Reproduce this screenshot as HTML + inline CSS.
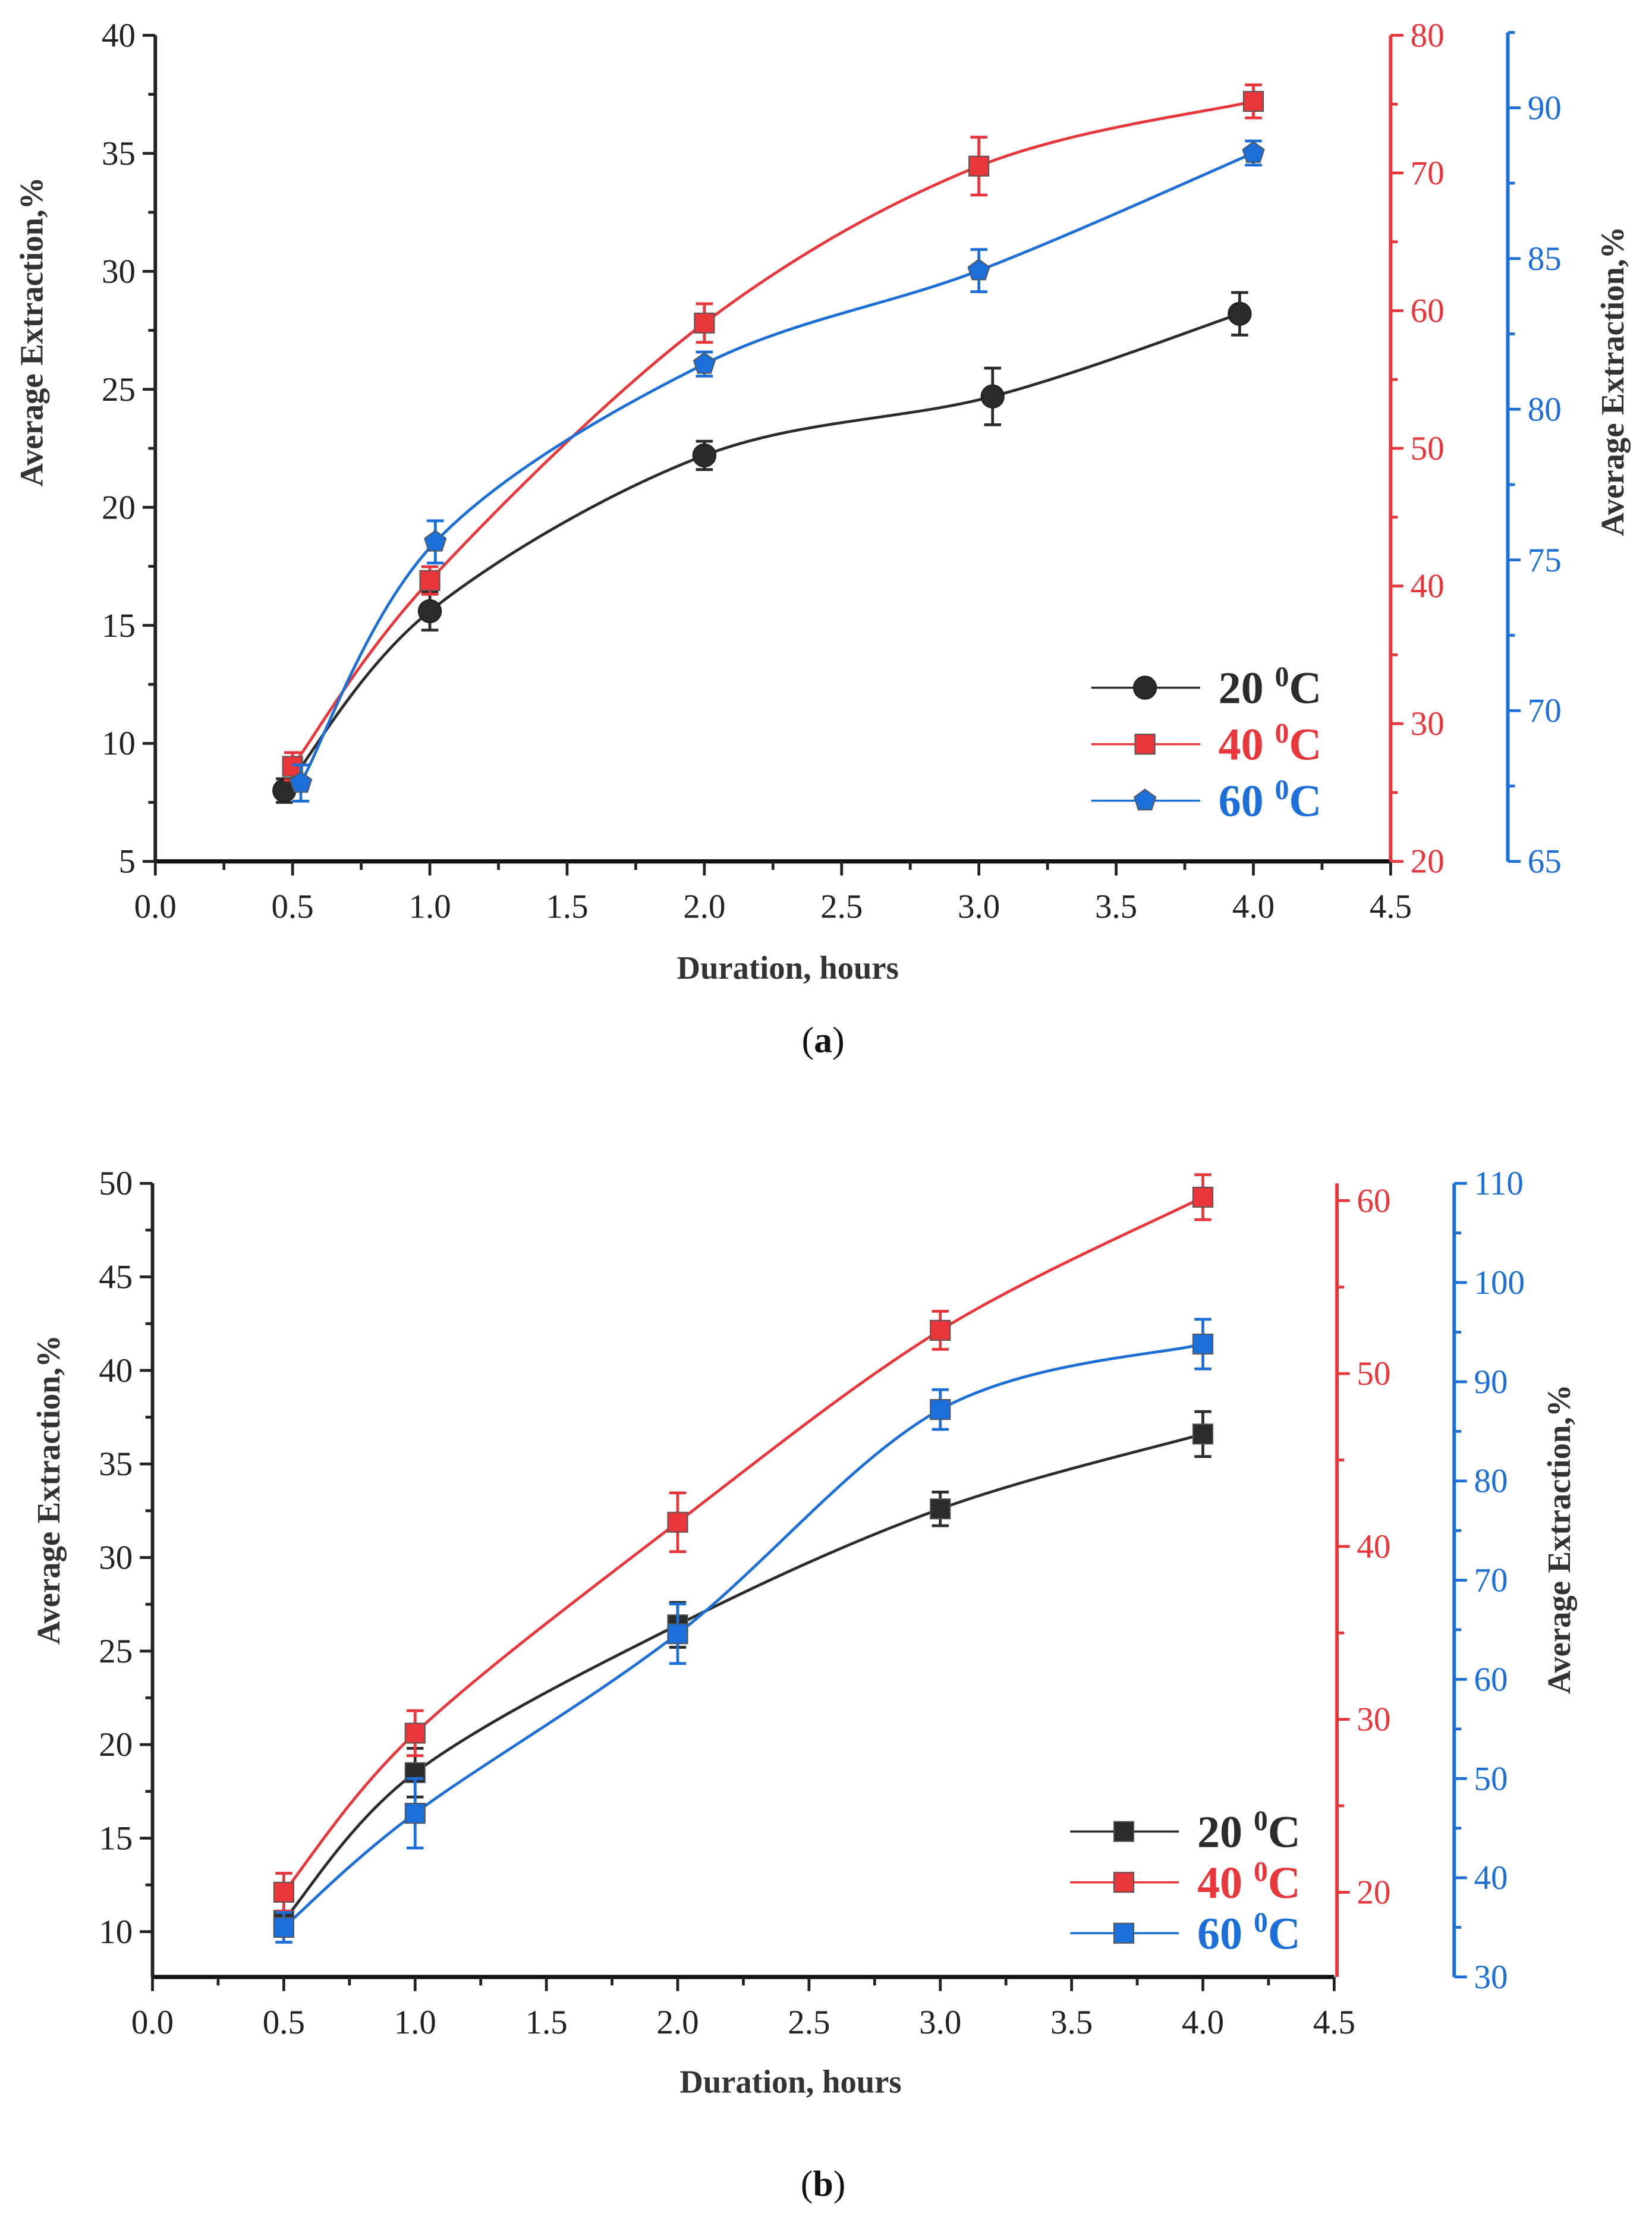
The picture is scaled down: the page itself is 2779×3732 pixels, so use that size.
<!DOCTYPE html>
<html><head><meta charset="utf-8"><style>
html,body{margin:0;padding:0;background:#fff}
svg{display:block}
text{font-family:"Liberation Serif",serif}
</style></head><body>
<svg id="fig" width="2779" height="3732" viewBox="0 0 1170.1 1571.4" xmlns="http://www.w3.org/2000/svg"></svg>
<script>
// ---- Chart (a) data ----
const aX20 = [0.47, 1.0, 2.0, 3.05, 3.95];
const aY20 = [8.0, 15.6, 22.2, 24.7, 28.2];
const aE20 = [0.5, 0.8, 0.6, 1.2, 0.9];
const aX40 = [0.5, 1.0, 2.0, 3.0, 4.0];
const aY40 = [26.9, 40.4, 59.1, 70.5, 75.2];
const aE40 = [1.0, 1.0, 1.4, 2.1, 1.2];
const aX60 = [0.53, 1.02, 2.0, 3.0, 4.0];
const aY60 = [67.6, 75.6, 81.5, 84.6, 88.5];
const aE60 = [0.6, 0.7, 0.4, 0.7, 0.4];
// ---- Chart (b) data ----
const bX = [0.5, 1.0, 2.0, 3.0, 4.0];
const bY20 = [10.6, 18.5, 26.4, 32.6, 36.6];
const bE20 = [0.5, 1.3, 1.2, 0.9, 1.2];
const bY40 = [20.0, 29.2, 41.4, 52.5, 60.2];
const bE40 = [1.1, 1.3, 1.7, 1.1, 1.3];
const bY60 = [35.0, 46.5, 64.6, 87.2, 93.8];
const bE60 = [1.5, 3.5, 3.0, 2.0, 2.5];
const xTicks = ["0.0","0.5","1.0","1.5","2.0","2.5","3.0","3.5","4.0","4.5"];

const NS="http://www.w3.org/2000/svg";
const svg=document.getElementById('fig');
function el(tag,attrs,parent,txt){const e=document.createElementNS(NS,tag);for(const k in attrs)e.setAttribute(k,attrs[k]);if(txt!==undefined)e.textContent=txt;(parent||svg).appendChild(e);return e;}
const BLK="#2b2b2b",RED="#e8363b",BLU="#1c6fd9";

function smooth(pts){let d=`M${pts[0][0]},${pts[0][1]}`;for(let i=0;i<pts.length-1;i++){const p0=pts[Math.max(0,i-1)],p1=pts[i],p2=pts[i+1],p3=pts[Math.min(pts.length-1,i+2)];const c1=[p1[0]+(p2[0]-p0[0])/6,p1[1]+(p2[1]-p0[1])/6],c2=[p2[0]-(p3[0]-p1[0])/6,p2[1]-(p3[1]-p1[1])/6];d+=` C${c1[0]},${c1[1]} ${c2[0]},${c2[1]} ${p2[0]},${p2[1]}`;}return d;}

function marker(g,shape,x,y,color,s){
  if(shape==='circle'){const c=el('circle',{cx:x,cy:y,r:s*0.8,fill:BLK,stroke:'#222','stroke-width':1},g);}
  else if(shape==='square'){const r=el('rect',{x:x-s*0.7,y:y-s*0.7,width:s*1.4,height:s*1.4,fill:color,stroke:'#555','stroke-width':0.8},g);}
  else {let p=[];for(let k=0;k<5;k++){const a=-Math.PI/2+k*2*Math.PI/5;p.push((x+s*0.8*Math.cos(a)).toFixed(1)+','+(y+s*0.8*Math.sin(a)).toFixed(1));}
    const q=el('polygon',{points:p.join(' '),fill:color,stroke:'#555','stroke-width':0.8},g);}
}

function series(g,name,xs,ys,es,sx,sy,color,shape){
  const sg=el('g',{},g);
  const pts=xs.map((x,i)=>[sx(x),sy(ys[i])]);
  el('path',{d:smooth(pts),fill:'none',stroke:color,'stroke-width':2},sg);
  xs.forEach((x,i)=>{const px=sx(x),t=sy(ys[i]+es[i]),b=sy(ys[i]-es[i]);
    el('path',{d:`M${px},${t}V${b}M${px-6},${t}H${px+6}M${px-6},${b}H${px+6}`,stroke:color,'stroke-width':2,fill:'none'},sg);
    marker(sg,shape,px,sy(ys[i]),color,10);});
}

function yAxis(g,name,x,top,bot,vmin,vmax,major,minor,color,labels,side,fs){
  const ag=el('g',{},g);
  const sy=v=>bot-(v-vmin)/(vmax-vmin)*(bot-top);
  el('line',{x1:x,y1:top,x2:x,y2:bot,stroke:color,'stroke-width':2.5},ag);
  const dir=side==='left'?-1:1;
  for(let v=Math.ceil(vmin/minor-1e-9)*minor;v<=vmax+1e-9;v+=minor){
    const isM=Math.abs(v/major-Math.round(v/major))<1e-6;const y=sy(v);
    el('line',{x1:x,y1:y,x2:x+dir*(isM?9:5),y2:y,stroke:color,'stroke-width':2},ag);
    if(isM&&labels){el('text',{x:x+dir*14,y:y+8,'font-size':fs,fill:color,'text-anchor':side==='left'?'end':'start'},ag,String(Math.round(v)));}
  }
  return sy;
}

function xAxis(g,x0,x1,y,fs){
  const ag=el('g',{},g);
  const sx=v=>x0+v/4.5*(x1-x0);
  el('line',{x1:x0,y1:y,x2:x1,y2:y,stroke:'#111','stroke-width':3},ag);
  for(let i=0;i<=18;i++){const v=i*0.25,px=sx(v),M=i%2===0;
    el('line',{x1:px,y1:y,x2:px,y2:y+(M?10:6),stroke:'#222','stroke-width':2},ag);
    if(M)el('text',{x:px,y:y+40,'font-size':fs,fill:'#222','text-anchor':'middle'},ag,xTicks[i/2]);}
  return sx;
}

function legend(g,x,y0,dy,entries){
  const lg=el('g',{},g);
  entries.forEach((e,i)=>{const y=y0+i*dy;const eg=el('g',{},lg);
    el('line',{x1:x,y1:y,x2:x+77,y2:y,stroke:e.c,'stroke-width':1.5},eg);
    marker(eg,e.s,x+38,y,e.c,10);
    const t=el('text',{x:x+90,y:y+11,'font-size':32,fill:e.c,'font-weight':'bold'},eg);
    t.appendChild(document.createTextNode(e.t+' '));
    el('tspan',{'font-size':20,dy:-12},t,'0');
    el('tspan',{dy:12},t,'C');});
}

function titles(g,lx,ly,rx,ry,xx,xy){
  const t1=el('text',{x:lx,y:ly,'font-size':23,'font-weight':'bold',fill:'#333','text-anchor':'middle',transform:`rotate(-90 ${lx} ${ly})`},g,'Average Extraction,%');
  
  const t2=el('text',{x:rx,y:ry,'font-size':23,'font-weight':'bold',fill:'#333','text-anchor':'middle',transform:`rotate(-90 ${rx} ${ry})`},g,'Average Extraction,%');
  
  const t3=el('text',{x:xx,y:xy,'font-size':23,'font-weight':'bold',fill:'#333','text-anchor':'middle'},g,'Duration, hours');
  
}

// ===== Chart A =====
const gA=el('g',{});
const sxA=xAxis(gA,110,985,610,24);
const syA=yAxis(gA,'y-axis-left',110,25,610,5,40,5,2.5,'#222',true,'left',24);
const syAr=yAxis(gA,'y-axis-red',985,25,610,20,80,10,5,RED,true,'right',24);
const syAb=yAxis(gA,'y-axis-blue',1068,23,610,65,92.5,5,2.5,BLU,true,'right',24);
series(gA,'series-20c',aX20,aY20,aE20,sxA,syA,BLK,'circle');
series(gA,'series-40c',aX40,aY40,aE40,sxA,syAr,RED,'square');
series(gA,'series-60c',aX60,aY60,aE60,sxA,syAb,BLU,'pent');
legend(gA,773,487,40,[{t:'20',c:BLK,s:'circle'},{t:'40',c:RED,s:'square'},{t:'60',c:BLU,s:'pent'}]);
titles(gA,30,235,1150,270,558,693);
const capA=el('text',{x:583,y:745,'font-size':26,fill:'#111','text-anchor':'middle'},gA);

capA.appendChild(document.createTextNode('('));el('tspan',{'font-weight':'bold'},capA,'a');capA.appendChild(document.createTextNode(')'));

// ===== Chart B =====
const gB=el('g',{});
const sxB=xAxis(gB,108,945,1400,24);
const syB=yAxis(gB,'y-axis-left',108,838,1400,7.58,50,5,2.5,'#222',true,'left',24);
const syBr=yAxis(gB,'y-axis-red',947,838,1400,15.1,61,10,5,RED,true,'right',24);
const syBb=yAxis(gB,'y-axis-blue',1030,838,1400,30,110,10,5,BLU,true,'right',24);
series(gB,'series-20c',bX,bY20,bE20,sxB,syB,BLK,'square');
series(gB,'series-40c',bX,bY40,bE40,sxB,syBr,RED,'square');
series(gB,'series-60c',bX,bY60,bE60,sxB,syBb,BLU,'square');
legend(gB,758,1297,36,[{t:'20',c:BLK,s:'square'},{t:'40',c:RED,s:'square'},{t:'60',c:BLU,s:'square'}]);
titles(gB,42,1055,1112,1090,560,1482);
const capB=el('text',{x:583,y:1555,'font-size':26,fill:'#111','text-anchor':'middle'},gB);

capB.appendChild(document.createTextNode('('));el('tspan',{'font-weight':'bold'},capB,'b');capB.appendChild(document.createTextNode(')'));
</script>
</body></html>
